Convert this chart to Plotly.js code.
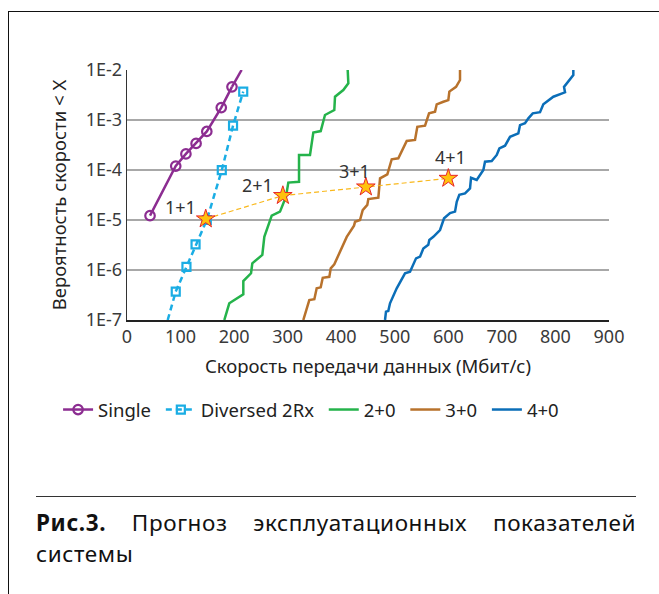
<!DOCTYPE html>
<html>
<head>
<meta charset="utf-8">
<script src="https://cdn.plot.ly/plotly-3.0.1.min.js"></script>
<style>
  html, body { margin: 0; padding: 0; background: #fff; }
  #wrap { position: relative; width: 659px; height: 594px; overflow: hidden; }
  #chart { position: absolute; left: 0; top: 0; width: 659px; height: 594px; }
  #frame { position: absolute; left: 8px; top: 11px; width: 660px; height: 600px;
           border-left: 1.5px solid #111; border-top: 1.5px solid #111; pointer-events: none; }
  #rule { position: absolute; left: 36px; top: 496px; width: 600px; height: 0;
          border-top: 1.2px solid #333; }
  .cap { position: absolute; left: 36px; width: 600px; white-space: nowrap;
         font-family: "Noto Sans", sans-serif; font-size: 22.5px; line-height: 31px;
         letter-spacing: 0.6px; color: #111; }
  #cap1 { top: 507px; text-align: justify; text-align-last: justify; white-space: normal; }
  #cap2 { top: 538px; text-align: left; }
  #cap1 b { font-weight: 700; }
</style>
</head>
<body>
<div id="wrap">
  <div id="chart"></div>
  <div id="frame"></div>
  <div id="rule"></div>
  <div class="cap" id="cap1"><b>Рис.3.</b> <span>Прогноз</span> <span>эксплуатационных</span> <span>показателей</span></div>
  <div class="cap" id="cap2">системы</div>
</div>
<script>
// ---- data (Mbit/s vs probability) ----
var singleX = [43, 91, 110, 129, 149, 176, 196];
var singleY = [1.22e-5, 1.2e-4, 2.1e-4, 3.4e-4, 5.9e-4, 1.77e-3, 4.6e-3];
var singleTailX = [196, 214];
var singleTailY = [4.6e-3, 1e-2];

var divX = [91, 111, 128, 149, 177, 198, 217];
var divY = [3.7e-7, 1.15e-6, 3.26e-6, 1.0e-5, 9.9e-5, 7.7e-4, 3.7e-3];
var divTailX = [76, 91];
var divTailY = [1e-7, 3.7e-7];

var g20X = [181.7, 191.0, 217.2, 217.2, 231.6, 234.0, 252.7, 256.4, 270.2, 285.7, 296.9, 301.2, 321.2, 321.2, 341.7, 347.9, 361.7, 369.7, 387.1, 388.4, 403.9, 413.3, 412.1];
var g20Y = [1e-7, 2.16e-7, 3.27e-7, 6.0e-7, 8.6e-7, 1.36e-6, 2.0e-6, 4.6e-6, 1.22e-5, 1.47e-5, 2.92e-5, 5.6e-5, 5.8e-5, 2.0e-4, 2.0e-4, 5.6e-4, 6.0e-4, 1.26e-3, 1.58e-3, 2.92e-3, 3.98e-3, 5.4e-3, 1e-2];

var g30X = [329.2, 340.4, 349.8, 354.2, 361.7, 365.5, 377.8, 380.4, 387.1, 400.9, 410.3, 423.9, 425.8, 435.1, 440.1, 448.7, 450.6, 469.3, 470.6, 472.5, 486.1, 494.3, 506.6, 522.3, 537.8, 542.1, 556.5, 564.0, 575.2, 578.3, 590.7, 600.0, 601.9, 614.4, 621.8, 621.8];
var g30Y = [1e-7, 2.5e-7, 2.6e-7, 4.3e-7, 4.5e-7, 7.0e-7, 7.3e-7, 1.08e-6, 1.30e-6, 2.84e-6, 4.6e-6, 7.7e-6, 9.2e-6, 1.0e-5, 1.58e-5, 2.0e-5, 2.63e-5, 2.79e-5, 4.6e-5, 6.8e-5, 8.2e-5, 1.64e-4, 1.71e-4, 3.8e-4, 4.0e-4, 7.3e-4, 7.7e-4, 1.36e-3, 1.47e-3, 2.06e-3, 2.32e-3, 2.5e-3, 3.7e-3, 4.6e-3, 6.3e-3, 1e-2];

var g40X = [481.8, 483.6, 487.9, 491.1, 503.6, 508.5, 519.1, 528.5, 533.5, 539.7, 547.2, 553.3, 562.6, 564.5, 572.0, 584.5, 592.0, 603.2, 612.5, 615.7, 620.5, 631.2, 640.5, 642.4, 653.0, 665.4, 668.5, 681.0, 690.4, 695.3, 705.9, 715.2, 730.7, 733.9, 743.2, 749.4, 757.6, 771.2, 777.4, 796.1, 817.9, 816.0, 833.4, 833.4];
var g40Y = [1e-7, 1.47e-7, 1.51e-7, 2.16e-7, 4.3e-7, 5.4e-7, 8.6e-7, 9.2e-7, 1.26e-6, 1.71e-6, 1.85e-6, 2.7e-6, 3.2e-6, 4.0e-6, 4.6e-6, 6.3e-6, 1.08e-5, 1.38e-5, 1.47e-5, 2.32e-5, 3.2e-5, 3.4e-5, 4.3e-5, 7.0e-5, 6.3e-5, 1e-4, 1.47e-4, 1.51e-4, 2.0e-4, 2.7e-4, 3.06e-4, 4.6e-4, 5.4e-4, 7.9e-4, 8.6e-4, 1.08e-3, 1.36e-3, 1.43e-3, 2.06e-3, 2.92e-3, 3.58e-3, 4.6e-3, 7.9e-3, 1e-2];

var starX = [147, 291, 446, 600];
var starY = [1.05e-5, 3.08e-5, 4.57e-5, 6.8e-5];
var starLabels = ['1+1', '2+1', '3+1', '4+1'];

var xTicks = [0, 100, 200, 300, 400, 500, 600, 700, 800, 900];
var yTicks = [1e-7, 1e-6, 1e-5, 1e-4, 1e-3, 1e-2];
var yTickText = ['1E-7', '1E-6', '1E-5', '1E-4', '1E-3', '1E-2'];

var seriesNames = ['Single', 'Diversed 2Rx', '2+0', '3+0', '4+0'];
var colors = ['#8C2D91', '#1AADE4', '#25B34B', '#B8722C', '#0B6EB8'];

// legend entries get a little extra trailing room, as in the reference
var pad = '\u00a0';

// ---- traces ----
var traces = [
  {x: singleTailX, y: singleTailY, mode: 'lines', showlegend: false, hoverinfo: 'skip',
   line: {color: colors[0], width: 2.5}},
  {x: singleX, y: singleY, mode: 'lines+markers', name: seriesNames[0] + pad,
   line: {color: colors[0], width: 2.5},
   marker: {symbol: 'circle-open', size: 9.5, color: colors[0], line: {width: 2.2, color: colors[0]}}},
  {x: divTailX, y: divTailY, mode: 'lines', showlegend: false, hoverinfo: 'skip',
   line: {color: colors[1], width: 2.5, dash: '6px,4px'}},
  {x: divX, y: divY, mode: 'lines+markers', name: seriesNames[1] + pad,
   line: {color: colors[1], width: 2.5, dash: '6px,4px'},
   marker: {symbol: 'square-open', size: 8, color: colors[1], line: {width: 2.2, color: colors[1]}}},
  {x: g20X, y: g20Y, mode: 'lines', name: seriesNames[2] + pad, line: {color: colors[2], width: 2.5}},
  {x: g30X, y: g30Y, mode: 'lines', name: seriesNames[3] + pad, line: {color: colors[3], width: 2.5}},
  {x: g40X, y: g40Y, mode: 'lines', name: seriesNames[4], line: {color: colors[4], width: 2.5}},
  {x: starX, y: starY, mode: 'lines+markers', showlegend: false, hoverinfo: 'skip',
   line: {color: '#F9B81B', width: 1.2, dash: '5px,3px'},
   marker: {symbol: 'star', size: 14, color: '#FFC20E', line: {color: '#E8262B', width: 1}}}
];

var labelShift = [[-25, 12], [-25, 11], [-11, 16], [2, 21]];
var annotations = starLabels.map(function (t, i) {
  return {x: starX[i], y: Math.log10(starY[i]), xref: 'x', yref: 'y', text: t, showarrow: false,
          xshift: labelShift[i][0], yshift: labelShift[i][1],
          font: {family: 'Noto Sans, sans-serif', size: 18, color: '#333'}};
});

var layout = {
  width: 659, height: 594,
  margin: {l: 127, r: 50, t: 70, b: 274},
  paper_bgcolor: 'rgba(0,0,0,0)', plot_bgcolor: 'rgba(0,0,0,0)',
  font: {family: 'Noto Sans, sans-serif', color: '#333'},
  showlegend: true,
  legend: {orientation: 'h', x: -0.143, xanchor: 'left', y: -0.36, yanchor: 'middle',
           font: {size: 18.5, color: '#222'}, bgcolor: 'rgba(0,0,0,0)', traceorder: 'normal'},
  xaxis: {range: [0, 900], tickvals: xTicks, ticks: '', showgrid: false, zeroline: false,
          showline: true, linecolor: '#222', linewidth: 1.6,
          tickfont: {size: 18, color: '#3a3a3a'},
          title: {text: 'Скорость передачи данных (Мбит/с)', font: {size: 18.5, color: '#222'}, standoff: 13}},
  yaxis: {type: 'log', range: [-7, -2], tickvals: yTicks, ticktext: yTickText, ticks: '',
          showgrid: true, gridcolor: '#A8A8A8', gridwidth: 1.5, zeroline: false,
          showline: true, linecolor: '#333', linewidth: 1.3,
          tickfont: {size: 18, color: '#3a3a3a'},
          title: {text: 'Вероятность скорости < X', font: {size: 18.5, color: '#222'}, standoff: 14}},
  annotations: annotations
};

Plotly.newPlot('chart', traces, layout, {displayModeBar: false, staticPlot: true});
</script>
</body>
</html>
